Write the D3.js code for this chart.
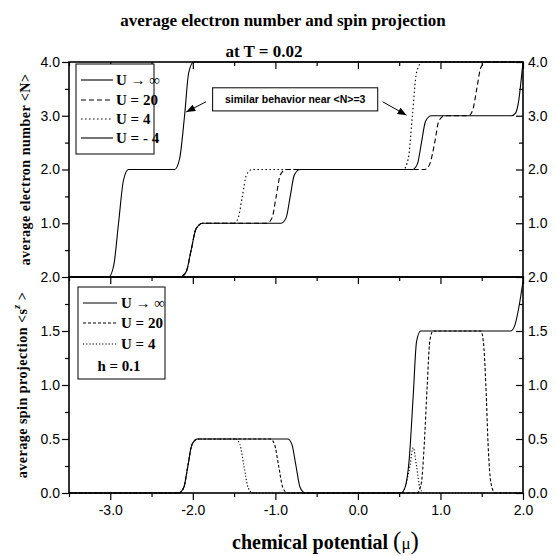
<!DOCTYPE html>
<html><head><meta charset="utf-8">
<script src="https://cdn.jsdelivr.net/npm/d3@7"></script>
<style>body{margin:0;background:#fff}</style>
</head><body>
<svg id="c" width="556" height="556"></svg>
<script>
// ---------------- data ----------------
const xTicksMajor = [-3, -2, -1, 0, 1, 2];
const xTicksMinor = [-3.5, -2.5, -1.5, -0.5, 0.5, 1.5];
const yTopMajor = [1, 2, 3, 4];
const yTopMinor = [0.5, 1.5, 2.5, 3.5];
const yBotMajor = [0, 0.5, 1, 1.5, 2];
const yBotMinor = [0.25, 0.75, 1.25, 1.75];

// top panel: <N> vs mu
const nInf = [[-3.5,0],[-2.15,0],[-2.08,0.1],[-2.02,0.5],[-1.96,0.9],[-1.88,1.0],[-0.93,1.0],[-0.87,1.1],[-0.82,1.5],[-0.77,1.9],[-0.7,2.0],[0.66,2.0],[0.72,2.1],[0.77,2.5],[0.82,2.9],[0.89,3.0],[1.86,3.0],[1.91,3.05],[1.95,3.3],[1.98,3.7],[2.0,4.0]];
const nU20 = [[-3.5,0],[-2.15,0],[-2.08,0.1],[-2.02,0.5],[-1.96,0.9],[-1.88,1.0],[-1.1,1.0],[-1.04,1.1],[-0.99,1.5],[-0.94,1.9],[-0.87,2.0],[0.81,2.0],[0.87,2.1],[0.93,2.5],[0.98,2.9],[1.05,3.0],[1.34,3.0],[1.39,3.1],[1.44,3.5],[1.49,3.9],[1.56,4.0],[2.0,4.0]];
const nU4 = [[-3.5,0],[-2.15,0],[-2.08,0.1],[-2.02,0.5],[-1.96,0.9],[-1.88,1.0],[-1.5,1.0],[-1.45,1.1],[-1.4,1.5],[-1.35,1.9],[-1.28,2.0],[0.55,2.0],[0.61,2.2],[0.66,3.0],[0.71,3.8],[0.78,4.0],[2.0,4.0]];
const nUm4 = [[-3.5,0],[-3.02,0],[-2.96,0.2],[-2.9,1.0],[-2.84,1.8],[-2.78,2.0],[-2.22,2.0],[-2.16,2.2],[-2.1,3.0],[-2.05,3.8],[-1.99,4.0],[2.0,4.0]];

// bottom panel: <s^z> vs mu
const sInf = [[-3.5,0],[-2.17,0],[-2.11,0.05],[-2.06,0.25],[-2.01,0.45],[-1.94,0.5],[-0.85,0.5],[-0.8,0.45],[-0.75,0.25],[-0.7,0.05],[-0.64,0],[0.52,0],[0.57,0.05],[0.62,0.3],[0.67,0.9],[0.71,1.4],[0.76,1.5],[1.85,1.5],[1.9,1.55],[1.95,1.72],[2.0,1.96]];
const sU20 = [[-3.5,0],[-2.17,0],[-2.11,0.05],[-2.06,0.25],[-2.01,0.45],[-1.94,0.5],[-1.06,0.5],[-1.01,0.45],[-0.96,0.25],[-0.91,0.05],[-0.85,0],[0.72,0],[0.77,0.1],[0.8,0.4],[0.84,1.0],[0.87,1.4],[0.91,1.5],[1.49,1.5],[1.52,1.4],[1.55,1.0],[1.58,0.4],[1.61,0.1],[1.66,0],[2.0,0]];
const sU4 = [[-3.5,0],[-2.17,0],[-2.11,0.05],[-2.06,0.25],[-2.01,0.45],[-1.94,0.5],[-1.48,0.5],[-1.43,0.45],[-1.38,0.25],[-1.33,0.05],[-1.27,0],[0.53,0],[0.58,0.07],[0.63,0.25],[0.67,0.42],[0.71,0.25],[0.75,0.05],[0.8,0],[2.0,0]];

const legendTop = [{u:"U", r:" \u2192 \u221E", dash:null}, {u:"U = 20", r:"", dash:"5,3"}, {u:"U = 4", r:"", dash:"1.5,2.5"}, {u:"U = - 4", r:"", dash:null}];
const legendBot = [{u:"U", r:" \u2192 \u221E", dash:null}, {u:"U = 20", r:"", dash:"3,2"}, {u:"U = 4", r:"", dash:"1.2,2"}];
const noteText = "similar behavior near <N>=3";
const noteBox = {x0:-1.76, x1:0.24, y0:3.09, y1:3.52};
const noteArrows = [{from:[-1.84,3.26], to:[-2.08,3.07]}, {from:[0.30,3.26], to:[0.59,3.01]}];

// ---------------- drawing ----------------
const svg = d3.select('#c');
const L = 69, R = 523;
const x = d3.scaleLinear().domain([-3.5, 2]).range([L, R]);
const yTop = d3.scaleLinear().domain([0, 4]).range([277, 62]);
const yBot = d3.scaleLinear().domain([0, 2]).range([493, 277]);
const SANS = "'Liberation Sans', Arial, sans-serif";
const SERIF = "'Liberation Serif', 'Times New Roman', serif";

svg.append('rect').attr('width',556).attr('height',556).attr('fill','#fff');

const defs = svg.append('defs');
defs.append('clipPath').attr('id','clipT').append('rect').attr('x',L).attr('y',60).attr('width',R-L).attr('height',218);
defs.append('clipPath').attr('id','clipB').append('rect').attr('x',L).attr('y',275).attr('width',R-L).attr('height',219);
defs.append('marker').attr('id','arr').attr('viewBox','0 0 10 10').attr('refX',10).attr('refY',5)
  .attr('markerWidth',9).attr('markerHeight',9).attr('markerUnits','userSpaceOnUse').attr('orient','auto')
  .append('path').attr('d','M0,1 L10,5 L0,9 Z').attr('fill','#000');

function styleAxis(g){
  g.select('.domain').remove();
  g.selectAll('line').attr('stroke','#000').attr('stroke-width',1.2);
  g.selectAll('text').attr('font-family',SANS).attr('font-size',14).attr('fill','#000');
}
const fmt = d => d.toFixed(1);

function panel(y, major, minor, yLabels){
  const b = y.range()[0], t = y.range()[1];
  svg.append('g').attr('transform',`translate(${L},0)`).call(d3.axisLeft(y).tickValues(minor).tickSize(4).tickFormat('')).call(styleAxis);
  svg.append('g').attr('transform',`translate(${L},0)`).call(d3.axisLeft(y).tickValues(yLabels).tickSize(7).tickPadding(2).tickFormat(fmt)).call(styleAxis);
  svg.append('g').attr('transform',`translate(${R},0)`).call(d3.axisRight(y).tickValues(minor).tickSize(-4).tickFormat('')).call(styleAxis);
  svg.append('g').attr('transform',`translate(${R},0)`).call(d3.axisRight(y).tickValues(yLabels).tickSize(-7).tickPadding(5).tickFormat(fmt)).call(styleAxis);
  svg.append('g').attr('transform',`translate(0,${t})`).call(d3.axisTop(x).tickValues(xTicksMinor).tickSize(-4).tickFormat('')).call(styleAxis);
  svg.append('g').attr('transform',`translate(0,${t})`).call(d3.axisTop(x).tickValues(xTicksMajor).tickSize(-7).tickFormat('')).call(styleAxis);
  svg.append('rect').attr('x',L).attr('y',t).attr('width',R-L).attr('height',b-t)
    .attr('fill','none').attr('stroke','#000').attr('stroke-width',1.6);
}
panel(yTop, yTopMajor, yTopMinor, yTopMajor);
panel(yBot, yBotMajor, yBotMinor, yBotMajor);

svg.append('g').attr('transform',`translate(0,493)`).call(d3.axisBottom(x).tickValues(xTicksMinor).tickSize(4).tickFormat('')).call(styleAxis);
svg.append('g').attr('transform',`translate(0,493)`).call(d3.axisBottom(x).tickValues(xTicksMajor).tickSize(7).tickPadding(5).tickFormat(fmt)).call(styleAxis);

function curve(data, y, dash, clip){
  const line = d3.line().x(d=>x(d[0])).y(d=>y(d[1])).curve(d3.curveMonotoneX);
  svg.append('path').attr('d', line(data)).attr('fill','none').attr('stroke','#000')
    .attr('stroke-width',1.1).attr('stroke-dasharray', dash).attr('clip-path',`url(#${clip})`);
}
curve(nUm4, yTop, null, 'clipT');
curve(nU4, yTop, '1.5,2.5', 'clipT');
curve(nU20, yTop, '5,3', 'clipT');
curve(nInf, yTop, null, 'clipT');
curve(sU4, yBot, '1.2,2', 'clipB');
curve(sU20, yBot, '3,2', 'clipB');
curve(sInf, yBot, null, 'clipB');

svg.append('rect').attr('x',x(noteBox.x0)).attr('y',yTop(noteBox.y1))
  .attr('width',x(noteBox.x1)-x(noteBox.x0)).attr('height',yTop(noteBox.y0)-yTop(noteBox.y1))
  .attr('fill','#fff').attr('stroke','#000').attr('stroke-width',1);
svg.append('text').attr('x',(x(noteBox.x0)+x(noteBox.x1))/2).attr('y',(yTop(noteBox.y0)+yTop(noteBox.y1))/2)
  .attr('text-anchor','middle').attr('dominant-baseline','central')
  .attr('font-family',SANS).attr('font-size',10.5).attr('font-weight','bold').text(noteText);
noteArrows.forEach(a=>{
  svg.append('line').attr('x1',x(a.from[0])).attr('y1',yTop(a.from[1])).attr('x2',x(a.to[0])).attr('y2',yTop(a.to[1]))
    .attr('stroke','#000').attr('stroke-width',1).attr('marker-end','url(#arr)');
});

function legend(items, bx, by, bw, bh, ys, lx0, lx1, tx, extra){
  svg.append('rect').attr('x',bx).attr('y',by).attr('width',bw).attr('height',bh)
    .attr('fill','#fff').attr('stroke','#000').attr('stroke-width',1);
  items.forEach((it,i)=>{
    svg.append('line').attr('x1',lx0).attr('x2',lx1).attr('y1',ys[i]).attr('y2',ys[i])
      .attr('stroke','#000').attr('stroke-width',1.1).attr('stroke-dasharray',it.dash);
    const t = svg.append('text').attr('x',tx).attr('y',ys[i]).attr('dominant-baseline','central')
      .attr('font-family',SERIF).attr('font-size',15).attr('font-weight','bold');
    t.append('tspan').text(it.u);
    if(it.r) t.append('tspan').attr('font-weight','normal').attr('font-size',15).text(it.r);
  });
  if(extra){
    svg.append('text').attr('x',extra.x).attr('y',extra.y).attr('text-anchor','middle').attr('dominant-baseline','central')
      .attr('font-family',SERIF).attr('font-size',15).attr('font-weight','bold').text(extra.t);
  }
}
legend(legendTop, 76, 64, 78, 90, [80, 100, 119, 138], 81, 113, 116);
legend(legendBot, 78, 287, 87, 92, [303, 323, 344], 83, 117, 121, {x:119, y:366, t:"h = 0.1"});

svg.append('text').attr('x',283).attr('y',26).attr('text-anchor','middle').attr('font-family',SERIF)
  .attr('font-size',17).attr('font-weight','bold').text('average electron number and spin projection');
svg.append('text').attr('x',264).attr('y',57).attr('text-anchor','middle').attr('font-family',SERIF)
  .attr('font-size',17).attr('font-weight','bold').text('at T = 0.02');

const xt = svg.append('text').attr('x',232).attr('y',549).attr('text-anchor','start').attr('font-family',SERIF)
  .attr('font-size',20).attr('font-weight','bold');
xt.append('tspan').text('chemical potential ');
xt.append('tspan').attr('font-size',25).attr('font-weight','normal').text('(');
xt.append('tspan').attr('font-size',17).attr('font-weight','normal').text('\u03BC');
xt.append('tspan').attr('font-size',25).attr('font-weight','normal').text(')');

svg.append('text').attr('transform',`translate(30,${(62+277)/2}) rotate(-90)`).attr('text-anchor','middle')
  .attr('font-family',SERIF).attr('font-size',14).attr('font-weight','bold').attr('letter-spacing',0.5)
  .text('average electron number <N>');
const yb = svg.append('text').attr('transform',`translate(27,${(277+493)/2}) rotate(-90)`).attr('text-anchor','middle')
  .attr('font-family',SERIF).attr('font-size',14).attr('font-weight','bold').attr('letter-spacing',0.5);
yb.append('tspan').text('average spin projection <s');
yb.append('tspan').attr('dy',-7).attr('font-size',10).attr('font-style','italic').text('z');
yb.append('tspan').attr('dy',7).text(' >');
</script>
</body></html>
